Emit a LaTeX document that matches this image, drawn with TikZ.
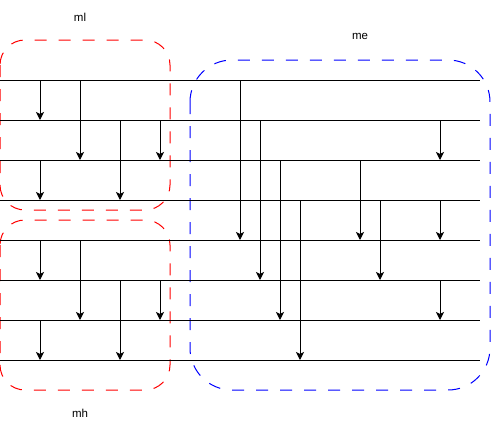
\documentclass[tikz,border=0pt]{standalone}
\usepackage{fontspec}
\setmainfont{Liberation Sans}
\usetikzlibrary{arrows.meta}
\begin{document}
\begin{tikzpicture}[x=1pt,y=-1pt,
  wire/.style={line width=1pt,black},
  sig/.style={line width=1pt,black,-{Stealth[length=8pt,width=8pt,inset=2pt]}},
  grp/.style={line width=1pt,dash pattern=on 12pt off 12pt},
  lbl/.style={font=\fontsize{11.5}{13}\selectfont,inner sep=0pt}]
\useasboundingbox (0,0) rectangle (491,431);
% groups
\draw[grp,red,rounded corners=25pt] (0,40) rectangle (170,210);
\draw[grp,red,rounded corners=25pt] (0,220) rectangle (170,390);
\draw[grp,blue,rounded corners=42pt] (190,60) rectangle (490,390);
% horizontal wires
\foreach \i in {1,...,8} {
  \coordinate (h\i a) at (0,{40+40*\i});
  \coordinate (h\i b) at (480,{40+40*\i});
  \draw[wire] (h\i a) -- (h\i b);
}
% arrows: x / from wire / to wire
\foreach \x/\f/\t [count=\k] in {40/1/2, 80/1/3, 120/2/4, 160/2/3, 40/3/4,
  40/5/6, 80/5/7, 120/6/8, 160/6/7, 40/7/8,
  240/1/5, 260/2/6, 280/3/7, 300/4/8, 360/3/5, 380/4/6, 440/2/3, 440/4/5, 440/6/7} {
  \coordinate (s\k) at (\x,{40+40*\f});
  \coordinate (e\k) at (\x,{40+40*\t});
  \draw[sig] (s\k) -- (e\k);
}
% labels
\node[lbl] (ml) at (80,17) {ml};
\node[lbl] (me) at (360,36) {me};
\node[lbl] (mh) at (80,413) {mh};
\end{tikzpicture}
\end{document}
